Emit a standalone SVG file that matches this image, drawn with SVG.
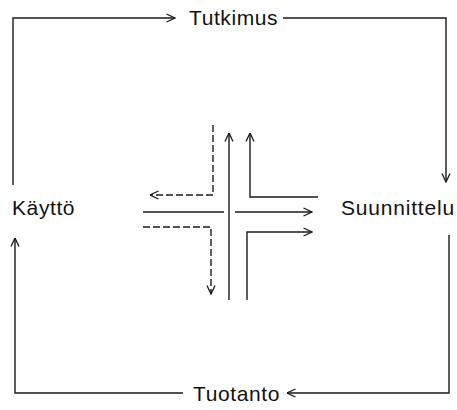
<svg xmlns="http://www.w3.org/2000/svg" width="457" height="410" viewBox="0 0 457 410">
<defs>
<marker id="ah" viewBox="0 0 10 10" refX="9.5" refY="5" markerWidth="10" markerHeight="10" markerUnits="userSpaceOnUse" orient="auto">
<path d="M1,1 L9.5,5 L1,9" fill="none" stroke="#1a1a1a" stroke-width="1.3"/>
</marker>
</defs>
<style>
.ln{fill:none;stroke:#1a1a1a;stroke-width:1.4;}
.ds{fill:none;stroke:#1a1a1a;stroke-width:1.4;stroke-dasharray:7 3;}
.lb{font-family:"Liberation Sans",Arial,sans-serif;font-size:21px;fill:#111;letter-spacing:0.6px;}
</style>
<rect width="457" height="410" fill="#fff"/>
<g id="connectors">
<path class="ln" d="M13,185 V18 H175" marker-end="url(#ah)"/>
<path class="ln" d="M283,18 H446 V182" marker-end="url(#ah)"/>
<path class="ln" d="M449,235 V393 H287" marker-end="url(#ah)"/>
<path class="ln" d="M183,393 H15 V238" marker-end="url(#ah)"/>
</g>
<g id="cross">
<path class="ds" d="M213,125 V195 H150" marker-end="url(#ah)"/>
<path class="ln" d="M229,300 V133" marker-end="url(#ah)"/>
<path class="ln" d="M318,197 H250 V133" marker-end="url(#ah)"/>
<path class="ln" d="M143,212 H224"/>
<path class="ln" d="M235,212 H312" marker-end="url(#ah)"/>
<path class="ds" d="M143,227 H211 V294" marker-end="url(#ah)"/>
<path class="ln" d="M247,300 V232 H312" marker-end="url(#ah)"/>
</g>
<g id="tutkimus"><text class="lb" x="189" y="25">Tutkimus</text></g>
<g id="suunnittelu"><text class="lb" x="341" y="215" style="letter-spacing:0.8px">Suunnittelu</text></g>
<g id="tuotanto"><text class="lb" x="193" y="401">Tuotanto</text></g>
<g id="kaytto"><text class="lb" x="12" y="215">Käyttö</text></g>
</svg>
